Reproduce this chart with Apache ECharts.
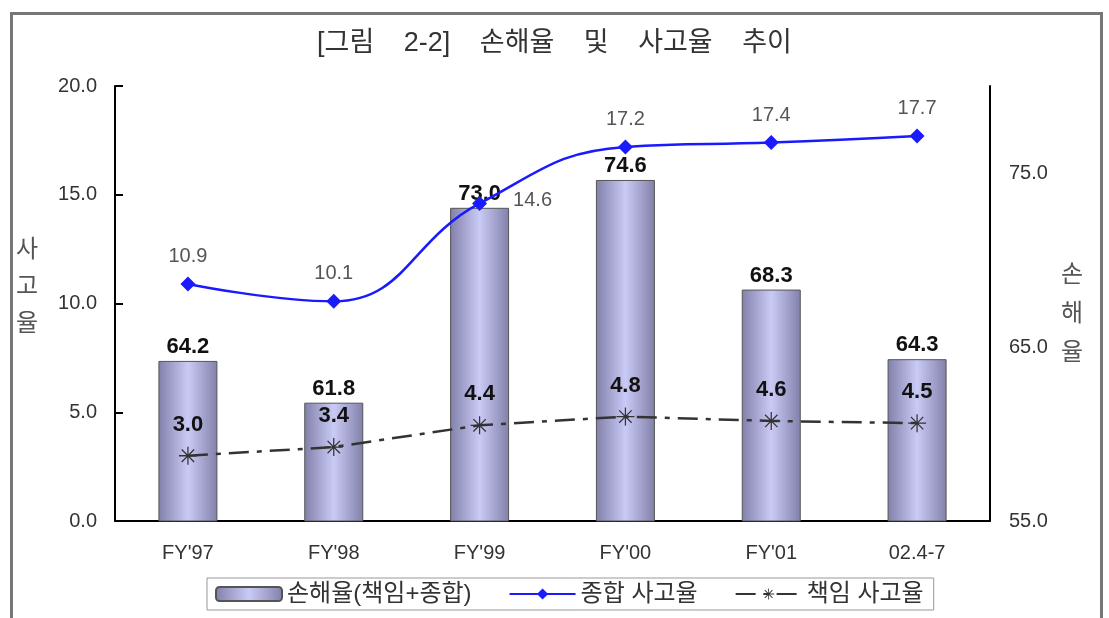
<!DOCTYPE html>
<html>
<head>
<meta charset="utf-8">
<script src="https://cdn.jsdelivr.net/npm/echarts@6/dist/echarts.min.js"></script>
<style>
  html, body { margin: 0; padding: 0; background: #fff; }
  #chart { width: 1109px; height: 618px; }
</style>
</head>
<body>
<div id="chart"></div>
<script>
  // 데이터
  const categories = ["FY'97", "FY'98", "FY'99", "FY'00", "FY'01", "02.4-7"];
  const lossRatio = [64.2, 61.8, 73.0, 74.6, 68.3, 64.3];       // 손해율(책임+종합)
  const totalAccident = [10.9, 10.1, 14.6, 17.2, 17.4, 17.7];   // 종합 사고율
  const liabAccident = [3.0, 3.4, 4.4, 4.8, 4.6, 4.5];          // 책임 사고율
  const leftTicks = [0, 20, 5];
  const rightTicks = [55, 80, 5];
  const rightShown = [55, 65, 75];
  const titleWords = ['[그림', '2-2]', '손해율', '및', '사고율', '추이'];

  const FONT = "'Liberation Sans', 'Noto Sans CJK KR', sans-serif";
  const star = 'path://M9.3,0h1.4v20h-1.4z M0,9.3h20v1.4h-20z M2.6,3.6L3.6,2.6L17.4,16.4L16.4,17.4z M16.4,2.6L17.4,3.6L3.6,17.4L2.6,16.4z';

  var chartDom = document.getElementById('chart');
  var myChart = echarts.init(chartDom);

  var barColor = new echarts.graphic.LinearGradient(0, 0, 1, 0, [
    {offset: 0, color: '#8080aa'},
    {offset: 0.5, color: '#cacaf6'},
    {offset: 1, color: '#8080aa'}
  ]);

  var option = {
    backgroundColor: '#fff',
    textStyle: {fontFamily: FONT},
    title: {
      // 단어 사이 간격을 넓게
      text: titleWords.map(w => '{w|' + w + '}').join(' '),
      left: 'center',
      top: 25,
      textStyle: {
        fontSize: 27, fontWeight: 'normal', color: '#333', fontFamily: FONT,
        rich: {w: {fontSize: 27, fontWeight: 'normal', color: '#333', fontFamily: FONT, padding: [0, 11]}}
      }
    },
    graphic: [
      {type: 'rect', left: 9, top: 11, shape: {width: 1090, height: 620},
        style: {fill: 'none', stroke: '#777', lineWidth: 3}},
      {type: 'text', left: 16, top: 232,
        style: {text: '사\n고\n율', fontSize: 24, lineHeight: 37, fill: '#555', fontFamily: FONT}},
      {type: 'text', left: 1061, top: 256,
        style: {text: '손\n해\n율', fontSize: 24, lineHeight: 39, fill: '#555', fontFamily: FONT}}
    ],
    grid: {left: 115, right: 119, top: 86, bottom: 97},
    legend: {
      left: 207,
      top: 578,
      padding: [4, 10, 4, 8],
      borderColor: '#999',
      borderWidth: 1,
      itemGap: 37,
      itemWidth: 66,
      itemHeight: 14,
      textStyle: {fontSize: 24, color: '#333', fontFamily: FONT},
      data: ['손해율(책임+종합)', '종합 사고율', '책임 사고율']
    },
    xAxis: {
      type: 'category',
      data: categories,
      axisLine: {lineStyle: {color: '#000', width: 2}},
      axisTick: {inside: true, length: 8, lineStyle: {color: '#000', width: 2}},
      axisLabel: {fontSize: 20, color: '#333', margin: 22}
    },
    yAxis: [
      {
        type: 'value',
        min: leftTicks[0], max: leftTicks[1], interval: leftTicks[2],
        axisLine: {show: true, lineStyle: {color: '#000', width: 2}},
        axisTick: {show: true, inside: true, length: 8, lineStyle: {color: '#000', width: 2}},
        axisLabel: {fontSize: 20, color: '#333', margin: 18, formatter: v => v.toFixed(1)},
        splitLine: {show: false}
      },
      {
        type: 'value',
        min: rightTicks[0], max: rightTicks[1], interval: rightTicks[2],
        axisLine: {show: true, lineStyle: {color: '#000', width: 2}},
        axisTick: {show: false},
        axisLabel: {fontSize: 20, color: '#333', margin: 19,
          formatter: v => rightShown.indexOf(v) >= 0 ? v.toFixed(1) : ''},
        splitLine: {show: false}
      }
    ],
    series: [
      {
        name: '손해율(책임+종합)',
        type: 'bar',
        yAxisIndex: 1,
        data: lossRatio,
        barWidth: 59,
        itemStyle: {color: barColor, borderColor: '#555', borderWidth: 1},
        label: {show: true, position: 'top', distance: 3, fontSize: 22, fontWeight: 'bold', color: '#111',
          formatter: p => p.value.toFixed(1)},
        z: 1
      },
      {
        name: '종합 사고율',
        type: 'line',
        data: totalAccident.map((v, i) => i === 2
          ? {value: v, label: {position: 'right', distance: 26, offset: [0, -3]}}
          : v),
        smooth: 0.45,
        symbol: 'diamond',
        symbolSize: 15,
        lineStyle: {color: '#1a1aff', width: 2.5},
        itemStyle: {color: '#1a1aff'},
        label: {show: true, position: 'top', distance: 10, fontSize: 20, color: '#555',
          formatter: p => p.value.toFixed(1)},
        z: 3
      },
      {
        name: '책임 사고율',
        type: 'line',
        data: liabAccident,
        symbol: star,
        symbolSize: 18,
        lineStyle: {color: '#333', width: 2.5, type: [20, 8, 5, 8]},
        itemStyle: {color: '#333'},
        label: {show: true, position: 'top', distance: 11, fontSize: 22, fontWeight: 'bold', color: '#111',
          formatter: p => p.value.toFixed(1)},
        z: 3
      }
    ]
  };

  myChart.setOption(option);
</script>
</body>
</html>
